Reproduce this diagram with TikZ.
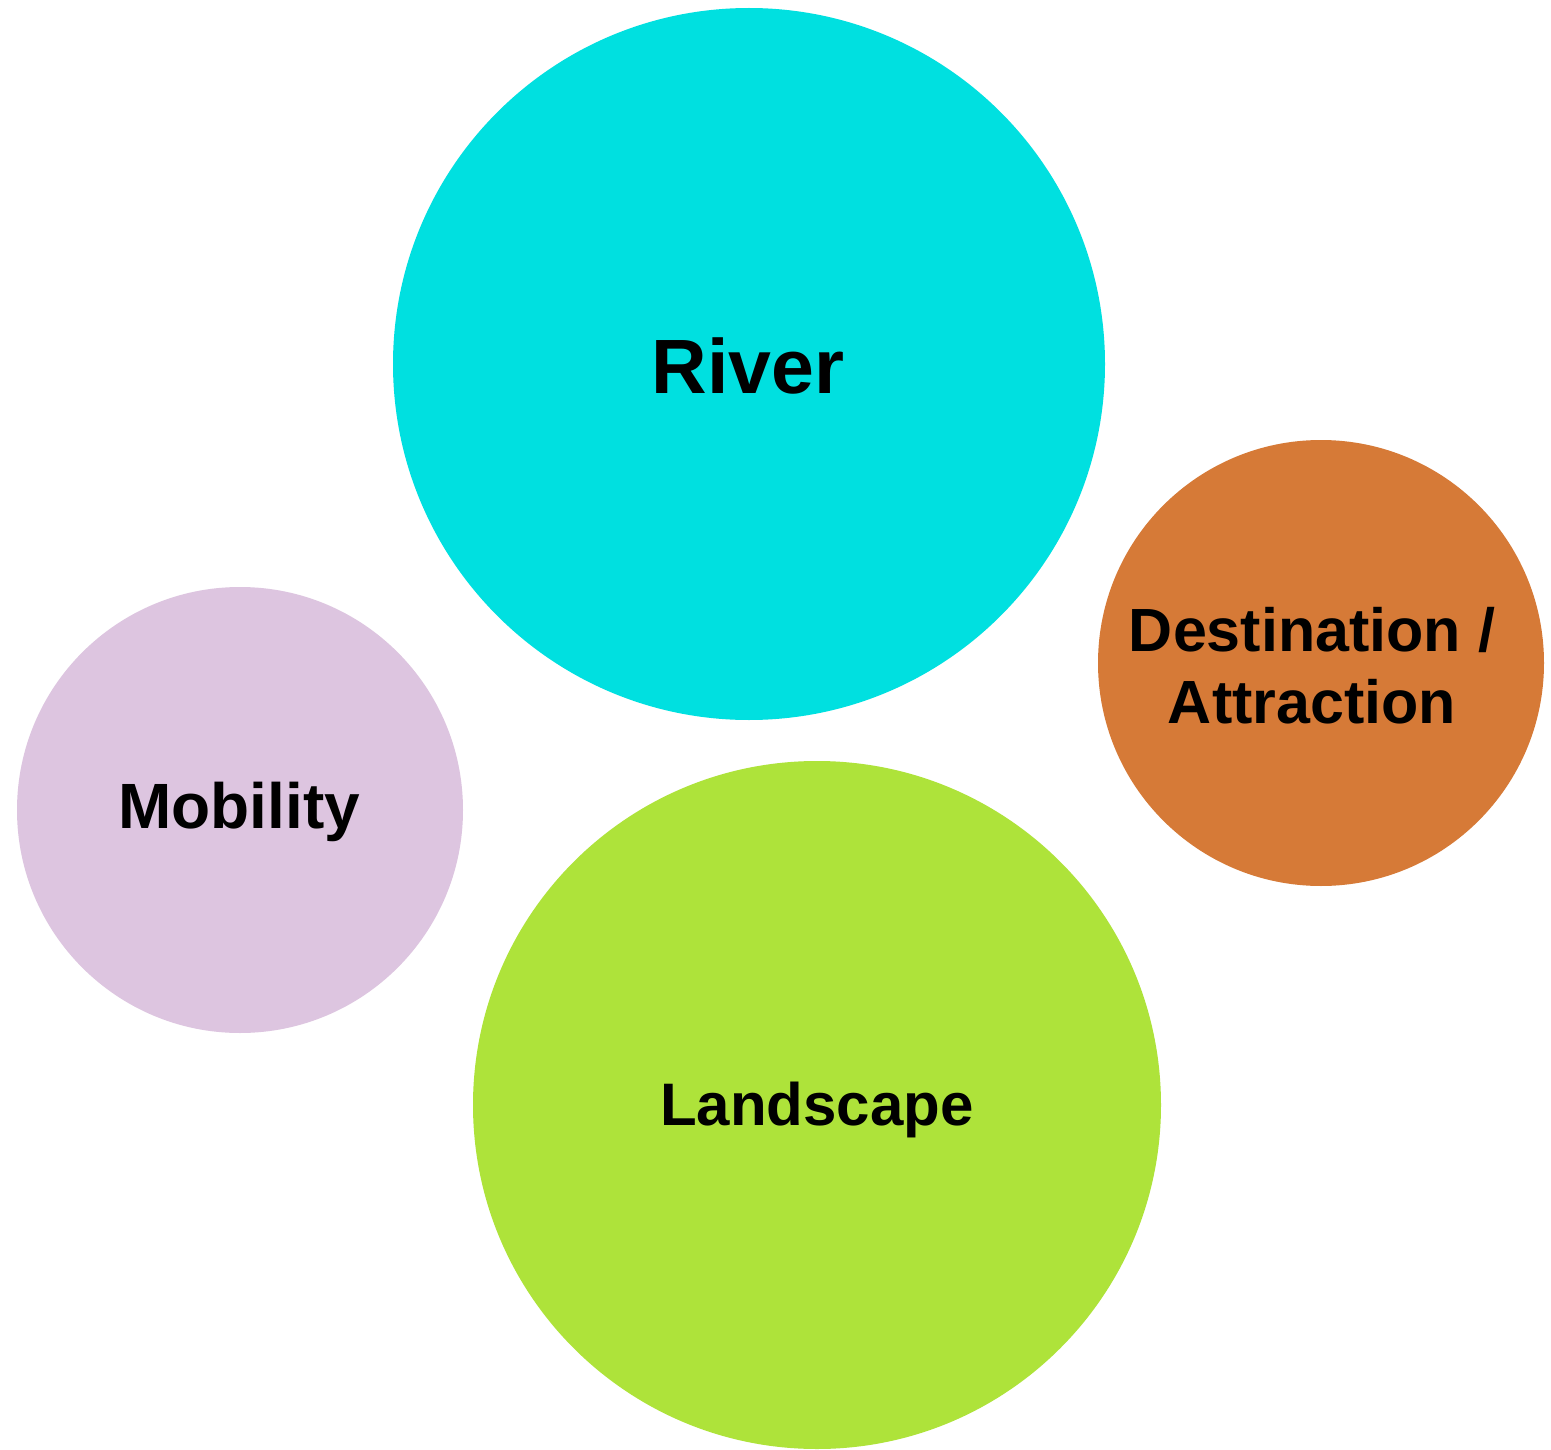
\documentclass[tikz,border=0pt]{standalone}
\usepackage{fontspec}
\setmainfont{Liberation Sans}
\definecolor{rivercol}{HTML}{00E0E0}
\definecolor{destcol}{HTML}{D67A37}
\definecolor{mobcol}{HTML}{DDC5E0}
\definecolor{landcol}{HTML}{AEE33A}
\begin{document}
\begin{tikzpicture}[x=1pt,y=-1pt,
  lbl/.style={font=\fontsize{63}{72}\selectfont\bfseries,align=center,text=black}]
\useasboundingbox[fill=white] (0,0) rectangle (1551,1450);
\fill[rivercol] (749,364) circle[radius=356];
\fill[destcol] (1321,663) circle[radius=223];
\fill[mobcol] (240,810) circle[radius=223];
\fill[landcol] (817,1105) circle[radius=344];
\node[lbl,font=\fontsize{77}{90}\selectfont\bfseries] (river) at (748,366) {River};
\node[lbl,font=\fontsize{61}{72}\selectfont\bfseries] (dest) at (1312,666) {Destination /\\Attraction};
\node[lbl,font=\fontsize{64}{72}\selectfont\bfseries] (mob) at (239,812) {Mobility};
\node[lbl,font=\fontsize{60}{72}\selectfont\bfseries] (land) at (817,1110) {Landscape};
\end{tikzpicture}
\end{document}
